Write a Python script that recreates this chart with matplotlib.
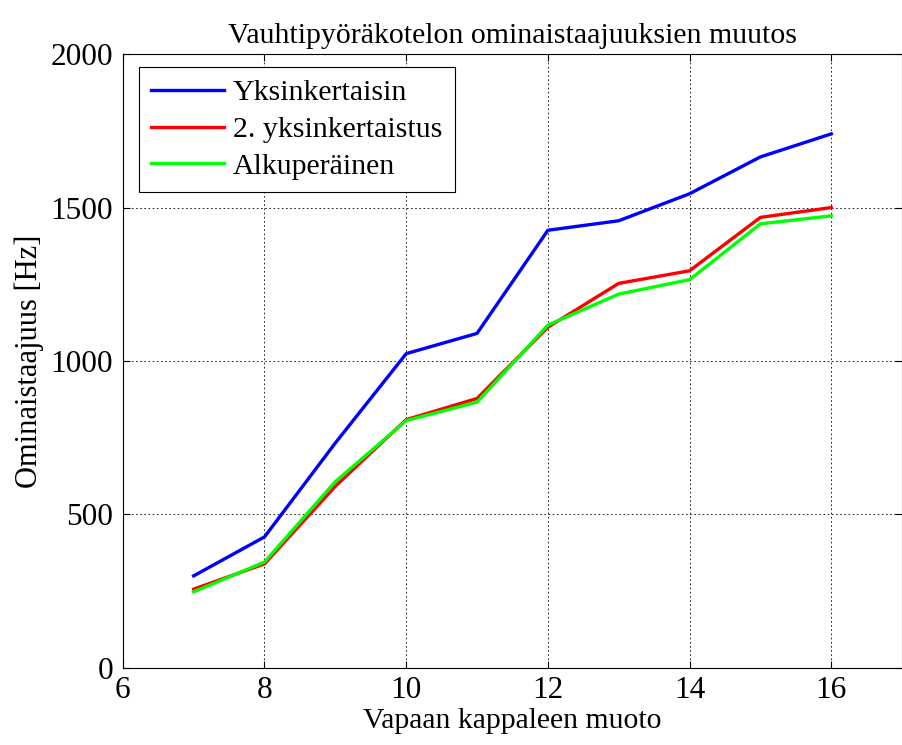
import numpy as np
import matplotlib.pyplot as plt

plt.rcParams['font.family'] = ['Liberation Serif', 'DejaVu Serif']

x = [7, 8, 9, 10, 11, 12, 13, 14, 15, 16]
yksinkertaisin = [300, 427, 733, 1024, 1090, 1426, 1457, 1545, 1665, 1740]
yksinkertaistus2 = [257, 339, 592, 809, 878, 1110, 1253, 1294, 1468, 1500]
alkuperainen = [248, 345, 607, 806, 866, 1117, 1218, 1265, 1447, 1473]

fig = plt.figure(figsize=(9.03, 7.45), dpi=100)
ax = fig.add_axes([0.136, 0.1034, 0.863, 0.824])

ax.plot(x, yksinkertaisin, color='#0000ff', lw=2.4, label='Yksinkertaisin')
ax.plot(x, yksinkertaistus2, color='#ff0000', lw=2.4, label='2. yksinkertaistus')
ax.plot(x, alkuperainen, color='#00ff00', lw=2.4, label='Alkuperäinen')

ax.set_xlim(6, 17)
ax.set_ylim(0, 2000)
ax.set_xticks([6, 8, 10, 12, 14, 16])
ax.set_yticks([0, 500, 1000, 1500, 2000])
ax.tick_params(direction='in', labelsize=22.5, length=5, top=True, right=True)
ax.tick_params(axis='y', pad=7)
ax.tick_params(axis='x', pad=6)
ax.grid(True, color='black', linestyle=(0, (2, 3)), linewidth=0.6)

ax.set_title('Vauhtipyöräkotelon ominaistaajuuksien muutos', fontsize=21.5, pad=8)
ax.set_xlabel('Vapaan kappaleen muoto', fontsize=21.4, labelpad=2)
ax.set_ylabel('Ominaistaajuus [Hz]', fontsize=22, labelpad=5)

leg = ax.legend(loc='upper left', bbox_to_anchor=(0.0205, 0.979), borderaxespad=0,
                fontsize=21.5, fancybox=False, framealpha=1,
                edgecolor='black', handlelength=2.45, handletextpad=0.28,
                borderpad=0.42, labelspacing=0.33)
leg.get_frame().set_linewidth(0.8)

plt.savefig('out.png', dpi=100)
